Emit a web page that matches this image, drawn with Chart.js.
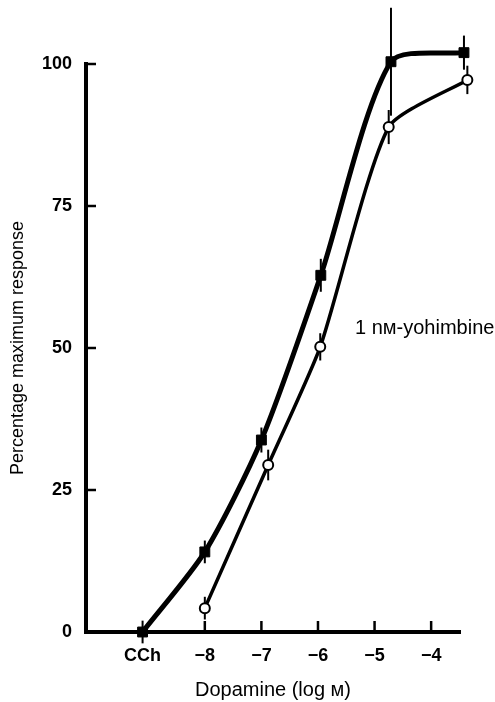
<!DOCTYPE html>
<html>
<head>
<meta charset="utf-8">
<script src="https://cdn.jsdelivr.net/npm/chart.js@4"></script>
<style>
  html, body { margin: 0; padding: 0; background: #fff; }
  #wrap { width: 495px; height: 702px; }
</style>
</head>
<body>
<div id="wrap"><canvas id="chart"></canvas></div>
<script>
// control curve (filled squares)
const ctrlDose = [-9.1, -8, -7, -5.95, -4.71, -3.42];
const ctrlResp = [0, 14.1, 33.8, 62.8, 100.4, 102];
const ctrlErr = [2, 2, 2.2, 2.9, 9.5, 3];

// 1 nM yohimbine (open circles)
const yohDose = [-8, -6.88, -5.96, -4.75, -3.36];
const yohResp = [4.2, 29.4, 50.2, 88.9, 97.2];
const yohErr = [2, 2.7, 2.4, 3, 2.5];

const xTickValues = [-9.1, -8, -7, -6, -5, -4];
const xTickLabels = ['CCh', '\u22128', '\u22127', '\u22126', '\u22125', '\u22124'];
const yTickValues = [0, 25, 50, 75, 100];

const FONT = '"Liberation Sans", Arial, "DejaVu Sans", sans-serif';

function pts(xs, ys) {
  return xs.map((x, i) => ({ x: x, y: ys[i] }));
}

// error bars + inward tick marks + curve label
const extras = {
  id: 'extras',
  beforeDatasetsDraw(chart) {
    const ctx = chart.ctx;
    const xs = chart.scales.x, ys = chart.scales.y;
    ctx.save();
    ctx.strokeStyle = '#000';
    ctx.lineWidth = 2;
    const bars = [[ctrlDose, ctrlResp, ctrlErr], [yohDose, yohResp, yohErr]];
    bars.forEach(([dx, dy, de]) => {
      dx.forEach((x, i) => {
        const px = xs.getPixelForValue(x);
        ctx.beginPath();
        ctx.moveTo(px, ys.getPixelForValue(dy[i] - de[i]));
        ctx.lineTo(px, ys.getPixelForValue(dy[i] + de[i]));
        ctx.stroke();
      });
    });
    // ticks pointing into the plot
    ctx.lineWidth = 2.5;
    const left = chart.chartArea.left, bottom = chart.chartArea.bottom;
    yTickValues.slice(1).forEach(v => {
      const py = ys.getPixelForValue(v);
      ctx.beginPath();
      ctx.moveTo(left, py);
      ctx.lineTo(left + 10, py);
      ctx.stroke();
    });
    xTickValues.slice(1).forEach(v => {
      const px = xs.getPixelForValue(v);
      ctx.beginPath();
      ctx.moveTo(px, bottom);
      ctx.lineTo(px, bottom - 11);
      ctx.stroke();
    });
    // label for the yohimbine curve
    ctx.fillStyle = '#000';
    ctx.font = '20px ' + FONT;
    ctx.textAlign = 'left';
    ctx.textBaseline = 'middle';
    ctx.fillText('1 n\u1D0D-yohimbine', 355, 328);
    ctx.restore();
    // let the points above/right of the axes be drawn too
    chart._savedArea = chart.chartArea;
    chart.chartArea = Object.assign({}, chart.chartArea, { top: 0, right: chart.width });
  },
  afterDatasetsDraw(chart) {
    if (chart._savedArea) chart.chartArea = chart._savedArea;
  }
};

new Chart(document.getElementById('chart'), {
  type: 'line',
  data: {
    datasets: [
      {
        label: 'Control',
        data: pts(ctrlDose, ctrlResp),
        borderColor: '#000',
        borderWidth: 5,
        tension: 0.25,
        pointStyle: 'rect',
        pointRadius: 7,
        pointBackgroundColor: '#000',
        pointBorderColor: '#000',
        pointBorderWidth: 1,
        clip: false
      },
      {
        label: '1 nM-yohimbine',
        data: pts(yohDose, yohResp),
        borderColor: '#000',
        borderWidth: 3.5,
        tension: 0.2,
        pointStyle: 'circle',
        pointRadius: 5,
        pointBackgroundColor: '#fff',
        pointBorderColor: '#000',
        pointBorderWidth: 2,
        clip: false
      }
    ]
  },
  options: {
    responsive: true,
    maintainAspectRatio: false,
    animation: false,
    layout: { padding: { top: 64, right: 35, left: 0, bottom: 0 } },
    plugins: {
      legend: { display: false },
      tooltip: { enabled: false }
    },
    scales: {
      x: {
        type: 'linear',
        min: -10.1,
        max: -3.49,
        grid: { display: false, drawTicks: false },
        border: { display: true, color: '#000', width: 4 },
        afterBuildTicks: (scale) => { scale.ticks = xTickValues.map(v => ({ value: v })); },
        afterFit: (scale) => { scale.height = 70; },
        ticks: {
          color: '#000',
          padding: 13,
          maxRotation: 0,
          autoSkip: false,
          font: { family: FONT, size: 18, weight: 'bold' },
          callback: (v) => xTickLabels[xTickValues.indexOf(v)]
        },
        title: {
          display: true,
          text: 'Dopamine (log \u1D0D)',
          color: '#000',
          font: { family: FONT, size: 20 },
          padding: { top: 0, bottom: 0 }
        }
      },
      y: {
        min: 0,
        max: 100,
        grid: { display: false, drawTicks: false },
        border: { display: true, color: '#000', width: 4 },
        afterBuildTicks: (scale) => { scale.ticks = yTickValues.map(v => ({ value: v })); },
        afterFit: (scale) => { scale.width = 86; },
        ticks: {
          color: '#000',
          padding: 14,
          font: { family: FONT, size: 18, weight: 'bold' }
        },
        title: {
          display: true,
          text: 'Percentage maximum response',
          color: '#000',
          font: { family: FONT, size: 18 },
          padding: { top: 7, bottom: 0 }
        }
      }
    }
  },
  plugins: [extras]
});
</script>
</body>
</html>
